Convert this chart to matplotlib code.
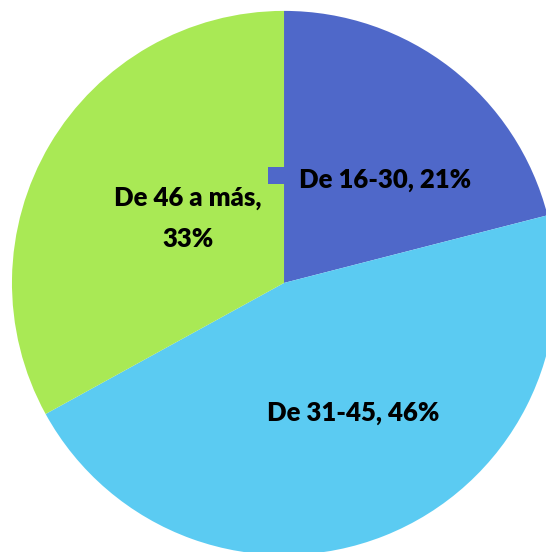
import matplotlib; matplotlib.use('Agg')

import matplotlib.pyplot as plt
from matplotlib.patches import Rectangle

labels = ["De 16-30", "De 31-45", "De 46 a más"]
shares = [21, 46, 33]
colors = ["#4F68C9", "#5BCBF2", "#A9E955"]

fig = plt.figure(figsize=(5.46, 5.52), dpi=100)
ax = fig.add_axes([0, 0, 1, 1])
ax.pie(shares, colors=colors, startangle=90, counterclock=False, radius=1.0,
       wedgeprops=dict(linewidth=0))
ax.set_xlim(-1.044, 0.963)
ax.set_ylim(-0.989, 1.040)
ax.set_aspect('equal')
ax.axis('off')

# label positions (data coords)
pos = [(0.371, 0.379), (0.254, -0.478), (-0.353, 0.238)]
txt = ["%s, %d%%" % (labels[0], shares[0]),
       "%s, %d%%" % (labels[1], shares[1]),
       "%s,\n%d%%" % (labels[2], shares[2])]
for (x, y), t in zip(pos, txt):
    ax.text(x, y, t, ha='center', va='center', fontsize=18.5, fontweight='heavy',
            family='Lato', color='black', linespacing=1.85)

# small piece of the first label's box showing over the green slice
ax.add_patch(Rectangle((-0.06, 0.365), 0.07, 0.06, color=colors[0], lw=0))

fig.savefig('out.png', dpi=100)
